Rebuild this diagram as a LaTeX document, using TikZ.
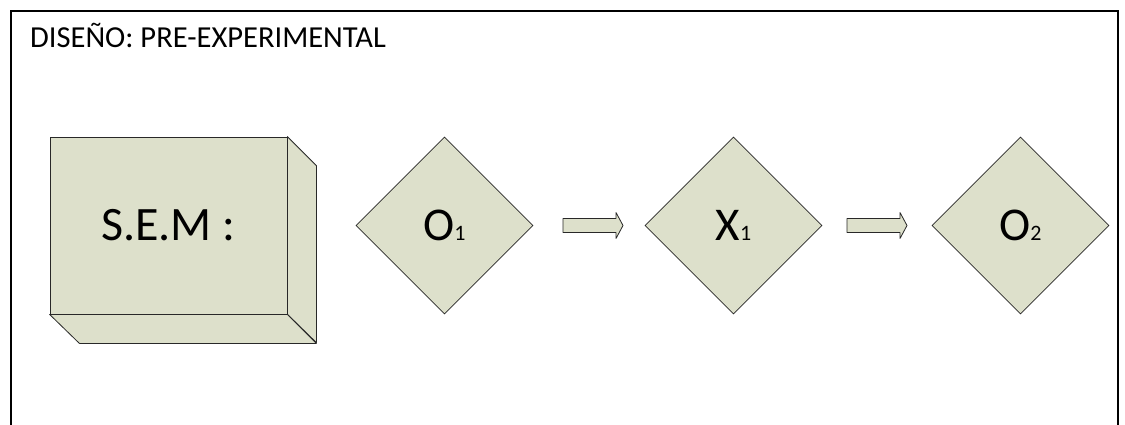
\documentclass[tikz,border=0pt]{standalone}
\usepackage{fontspec}
\setmainfont{Carlito}
\usetikzlibrary{shapes.geometric,calc}
\definecolor{boxfill}{RGB}{221,224,203}
\definecolor{edge}{RGB}{40,40,40}
\tikzset{
  face/.style={fill=boxfill, draw=edge, line width=0.8pt, line join=round},
  rhomb/.style={diamond, aspect=1, fill=boxfill, draw=edge, line width=0.8pt,
    minimum width=177pt, minimum height=177pt, inner sep=0pt,
    font=\fontsize{47}{50}\selectfont},
}
\newcommand{\idx}[1]{{\fontsize{22}{24}\selectfont #1}}
% block arrow (60 long, shaft 14, head 26) centred on a coordinate
\newcommand{\blockarrow}[1]{%
  \draw[face] ($(#1)+(-30,-7)$) -- ++(53,0) -- ++(0,-6) -- ++(7,13)
    -- ++(-7,13) -- ++(0,-6) -- ++(-53,0) -- cycle;}
\begin{document}
\begin{tikzpicture}[x=1pt,y=-1pt]
  \useasboundingbox (0,0) rectangle (1125,425);
  % open frame
  \draw[line width=1.2pt] (11,425) -- (11,11) -- (1118,11) -- (1118,425);
  \node[anchor=base west, inner sep=0pt, font=\fontsize{30.5}{33}\selectfont]
    (title) at (30,48) {DISEÑO: PRE-EXPERIMENTAL};
  % three-dimensional block
  \node[face, minimum width=237pt, minimum height=177pt, inner sep=0pt,
        font=\fontsize{48}{52}\selectfont] (sem) at (168.5,225.5) {S.E.M :};
  \draw[face] (sem.north east) -- ++(29,29) -- ++(0,177) -- (sem.south east) -- cycle;
  \draw[face] (sem.south west) -- (sem.south east) -- ++(29,29) -- ++(-237,0) -- cycle;
  % observations and treatment
  \node[rhomb] (o1) at (444.5,225.5) {O\idx{1}};
  \node[rhomb] (x1) at (733.5,225.5) {X\idx{1}};
  \node[rhomb] (o2) at (1020.5,225.5) {O\idx{2}};
  \coordinate (a1) at ($(o1.east)!0.536!(x1.west)$);
  \coordinate (a2) at ($(x1.east)!0.5!(o2.west)$);
  \blockarrow{a1}
  \blockarrow{a2}
\end{tikzpicture}
\end{document}
